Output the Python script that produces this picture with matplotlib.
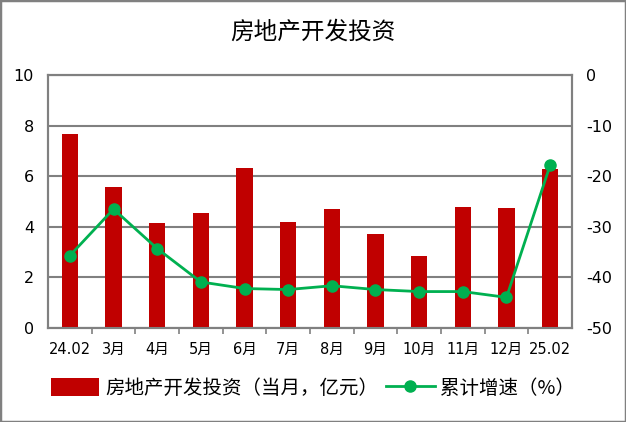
import matplotlib
matplotlib.use("Agg")
import matplotlib.pyplot as plt
from matplotlib.patches import Rectangle
from matplotlib.lines import Line2D
from matplotlib.patches import Patch

plt.rcParams['font.family'] = ['DejaVu Sans', 'Noto Sans CJK SC']
plt.rcParams['axes.unicode_minus'] = False

categories = ['24.02', '3月', '4月', '5月', '6月', '7月', '8月', '9月', '10月', '11月', '12月', '25.02']
investment = [7.67, 5.58, 4.14, 4.55, 6.33, 4.20, 4.70, 3.72, 2.85, 4.80, 4.75, 6.30]
growth = [-35.7, -26.5, -34.3, -40.9, -42.2, -42.4, -41.65, -42.4, -42.8, -42.8, -43.95, -17.8]
bar_label = '房地产开发投资（当月，亿元）'
line_label = '累计增速（%）'
title = '房地产开发投资'

fig = plt.figure(figsize=(6.26, 4.22), dpi=100)
ax = fig.add_axes([48/626, 1-328/422, (572-48)/626, (328-75)/422])
x = list(range(len(categories)))
gray = '#808080'

ax.bar(x, investment, width=0.38, color='#C00000', zorder=3)
ax.set_ylim(0, 10)
ax.set_xlim(-0.5, len(categories)-0.5)
ax.set_yticks([0, 2, 4, 6, 8, 10])
ax.grid(axis='y', color=gray, linewidth=1.5, zorder=0)
ax.set_xticks(x)
ax.set_xticklabels(categories, fontsize=10.5)
ax.tick_params(axis='x', length=0, pad=10)
ax.set_xticks([i + 0.5 for i in x[:-1]], minor=True)
ax.tick_params(axis='x', which='minor', length=4, color=gray, width=1.2, direction='out')
ax.tick_params(axis='y', length=0, labelsize=11.5, pad=10)
for s in ax.spines.values():
    s.set_color(gray)
    s.set_linewidth(1.5)

ax2 = ax.twinx()
ax2.plot(x, growth, color='#00B050', linewidth=2, marker='o', markersize=8, zorder=4)
ax2.set_ylim(-50, 0)
ax2.set_yticks([0, -10, -20, -30, -40, -50])
ax2.tick_params(axis='y', length=0, labelsize=11.5, pad=10)
for s in ax2.spines.values():
    s.set_color(gray)
    s.set_linewidth(1.5)

fig.text(0.5, 1-32/422, title, ha='center', va='center', fontsize=17,
         family=['Noto Sans CJK SC', 'DejaVu Sans'])

handles = [Patch(facecolor='#C00000', label=bar_label),
           Line2D([0], [0], color='#00B050', linewidth=2, marker='o', markersize=8, label=line_label)]
fig.legend(handles=handles, loc='center', bbox_to_anchor=(0.5, 1-388/422), ncol=2, frameon=False,
           prop={'family': ['Noto Sans CJK SC', 'DejaVu Sans'], 'size': 14},
           handlelength=2.5, handleheight=1.0, handletextpad=0.3, columnspacing=0.4)

fig.patches.append(Rectangle((0, 0), 1, 1, transform=fig.transFigure, fill=False,
                             edgecolor=gray, linewidth=2.5))
fig.savefig('out.png', dpi=100)
